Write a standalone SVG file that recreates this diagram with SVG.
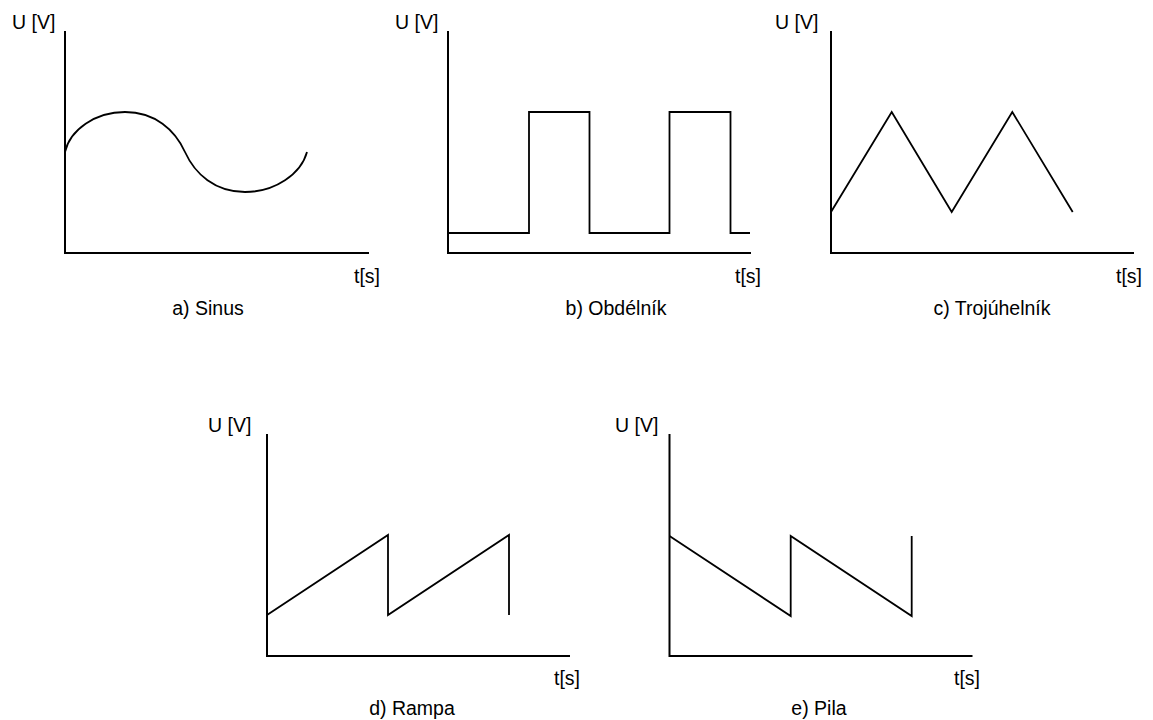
<svg xmlns="http://www.w3.org/2000/svg" width="1153" height="720" viewBox="0 0 1153 720">
<style>
.ax{fill:none;stroke:#000;stroke-width:2;stroke-linecap:square}
.sig{fill:none;stroke:#000;stroke-width:1.8;stroke-linejoin:miter}
text{font-family:"Liberation Sans",Arial,sans-serif;font-size:19.5px;fill:#000}
.cap{text-anchor:middle}
</style>
<rect width="1153" height="720" fill="#fff"/>
<g id="chart-a">
<path class="ax" d="M65,32 V253 H368"/>
<path class="sig" d="M65,152 C70,130 95,112 125,112 C155,112 175,130 185,152 C195,174 215,192 245,192 C275,192 301,174 307,152"/>
<text x="12" y="29">U [V]</text>
<text x="354" y="283">t[s]</text>
<text class="cap" x="208" y="315">a) Sinus</text>
</g>
<g id="chart-b">
<path class="ax" d="M448,32 V253 H750"/>
<path class="sig" d="M448,233 H529 V112 H589.5 V233 H669.5 V112 H730.5 V233 H750"/>
<text x="395" y="29">U [V]</text>
<text x="735" y="283">t[s]</text>
<text class="cap" x="616" y="315">b) Obdélník</text>
</g>
<g id="chart-c">
<path class="ax" d="M831,32 V253 H1133"/>
<path class="sig" d="M831,212 L891.7,112 L951.7,212 L1012.3,112 L1072.7,212"/>
<text x="775" y="29">U [V]</text>
<text x="1116" y="283">t[s]</text>
<text class="cap" x="992" y="315">c) Trojúhelník</text>
</g>
<g id="chart-d">
<path class="ax" d="M267,435 V656 H569"/>
<path class="sig" d="M267,615 L388,535 V615 L509,535 V615"/>
<text x="208" y="432">U [V]</text>
<text x="554" y="685">t[s]</text>
<text class="cap" x="412" y="715">d) Rampa</text>
</g>
<g id="chart-e">
<path class="ax" d="M669.5,435 V656 H971.5"/>
<path class="sig" d="M669.5,536 L790.7,616 V536 L911.7,616 V536"/>
<text x="615" y="432">U [V]</text>
<text x="954" y="685">t[s]</text>
<text class="cap" x="819" y="715">e) Pila</text>
</g>
<g id="connectors"></g>
</svg>
